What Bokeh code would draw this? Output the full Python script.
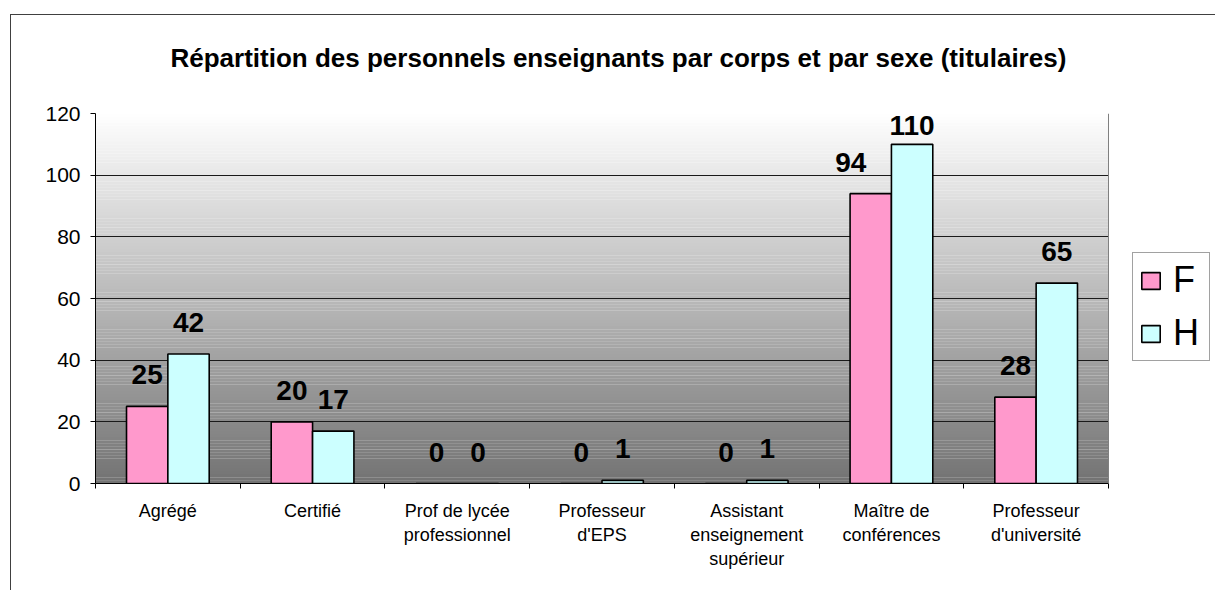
import numpy as np
from bokeh.plotting import figure
from bokeh.models import (ColumnDataSource, Range1d, FixedTicker, Legend, LegendItem,
                          LabelSet, Title, Span)
from bokeh.core.properties import value
from bokeh.embed import file_html
from bokeh.resources import INLINE

# ---------------- data ----------------
categories = ["Agrégé", "Certifié", "Prof de lycée\nprofessionnel", "Professeur\nd'EPS",
              "Assistant\nenseignement\nsupérieur", "Maître de\nconférences",
              "Professeur\nd'université"]
femmes = [25, 20, 0, 0, 0, 94, 28]
hommes = [42, 17, 0, 1, 1, 110, 65]
series_names = ["F", "H"]
y_ticks = [0, 20, 40, 60, 80, 100, 120]
chart_title = "Répartition des personnels enseignants par corps et par sexe (titulaires)"

# ---------------- style ----------------
FONT = "Liberation Sans"
F_COLOR = "#FF99CC"
H_COLOR = "#CCFFFF"
BAR_W = 1 / 3.5           # Excel gap width 150 %
label_nudge = {("F", 5): (-20, 22), ("H", 5): (0, 9)}   # Excel's automatic label placement

n_cat = len(categories)
centers = np.arange(n_cat) + 0.5
CANVAS_W = 1205
LEFT = 84
PLOT_W = 1013                                   # pixel width of the category area
x_end = n_cat * (CANVAS_W - LEFT) / PLOT_W      # extra room on the right for the legend

p = figure(width=CANVAS_W, height=576, output_backend="svg", toolbar_location=None,
           title=None,
           x_range=Range1d(0, x_end), y_range=Range1d(0, 120),
           min_border_left=LEFT, min_border_right=0, min_border_top=98, min_border_bottom=108,
           background_fill_color="white", border_fill_color="white")
p.margin = (14, 0, 0, 10)
p.styles = {"border-left": "1px solid #404040", "border-top": "1px solid #404040"}

# gradient background of plot area (white -> grey)
edges = np.linspace(0, 120, 121)
mid = (edges[:-1] + edges[1:]) / 2
shade = (115 + (255 - 115) * mid / 120).astype(int)
grad_colors = ["#%02x%02x%02x" % (s, s, s) for s in shade]
p.quad(left=0, right=n_cat, bottom=edges[:-1], top=edges[1:] + 0.05,
       fill_color=grad_colors, line_color=None, level="image")

# bars
src_f = ColumnDataSource(dict(x=centers - BAR_W / 2, top=femmes))
src_h = ColumnDataSource(dict(x=centers + BAR_W / 2, top=hommes))
rf = p.vbar(x="x", top="top", bottom=0, width=BAR_W, source=src_f,
            fill_color=F_COLOR, line_color="black", line_width=1.6)
rh = p.vbar(x="x", top="top", bottom=0, width=BAR_W, source=src_h,
            fill_color=H_COLOR, line_color="black", line_width=1.6)

# data labels
lx, ly, lt, ldx, ldy = [], [], [], [], []
for name, vals, off in (("F", femmes, -BAR_W / 2), ("H", hommes, BAR_W / 2)):
    for i, v in enumerate(vals):
        dx, dy = label_nudge.get((name, i), (0, 22))
        lx.append(centers[i] + off); ly.append(v); lt.append(str(v))
        ldx.append(dx); ldy.append(dy)
lab_src = ColumnDataSource(dict(x=lx, y=ly, text=lt, dx=ldx, dy=ldy))
p.add_layout(LabelSet(x="x", y="y", text="text", x_offset="dx", y_offset="dy",
                      source=lab_src, text_align="center", text_baseline="alphabetic",
                      text_font=value(FONT), text_font_size="28px",
                      text_font_style="bold", text_color="black"))

# axes
p.xaxis.ticker = FixedTicker(ticks=[float(c) for c in centers],
                             minor_ticks=list(range(n_cat + 1)))
p.xaxis.major_label_overrides = {float(c): cat for c, cat in zip(centers, categories)}
p.xaxis.bounds = (0, n_cat)
p.xaxis.major_tick_line_color = None
p.xaxis.major_tick_out = 0
p.xaxis.major_tick_in = 0
p.xaxis.minor_tick_line_color = "black"
p.xaxis.minor_tick_out = 5
p.xaxis.minor_tick_in = 0
p.xaxis.major_label_standoff = 12
p.xaxis.major_label_text_font = FONT
p.xaxis.major_label_text_font_size = "18px"
p.xaxis.major_label_text_color = "black"
p.xaxis.axis_line_color = "black"

p.yaxis.ticker = FixedTicker(ticks=y_ticks)
p.yaxis.major_tick_out = 5
p.yaxis.major_tick_in = 0
p.yaxis.minor_tick_line_color = None
p.yaxis.major_label_standoff = 10
p.yaxis.major_label_text_font = FONT
p.yaxis.major_label_text_font_size = "21px"
p.yaxis.major_label_text_color = "black"
p.yaxis.axis_line_color = "black"

p.xgrid.visible = False
p.ygrid.grid_line_color = "#1a1a1a"
p.ygrid.cross_bounds = (0, n_cat)
p.outline_line_color = None
p.add_layout(Span(location=n_cat, dimension="height", line_color="#808080", line_width=1))

# title (a blank spacer title sits between the frame and the real title)
p.add_layout(Title(text=" ", text_font_size="10px", standoff=26), "above")
p.add_layout(Title(text=chart_title, align="left", offset=75, standoff=4,
                   text_font=FONT, text_font_size="26px", text_font_style="bold",
                   text_color="black"), "above")

# legend
legend = Legend(items=[LegendItem(label=series_names[0], renderers=[rf]),
                       LegendItem(label=series_names[1], renderers=[rh])],
                location=(1037, 122), orientation="vertical",
                label_text_font=FONT, label_text_font_size="36px",
                label_text_color="black",
                glyph_width=23, glyph_height=21, label_standoff=11,
                padding=6, spacing=11, margin=0, label_width=30,
                border_line_color="#444444", background_fill_color="white")
p.add_layout(legend)

open("out.html", "w").write(file_html(p, INLINE))
